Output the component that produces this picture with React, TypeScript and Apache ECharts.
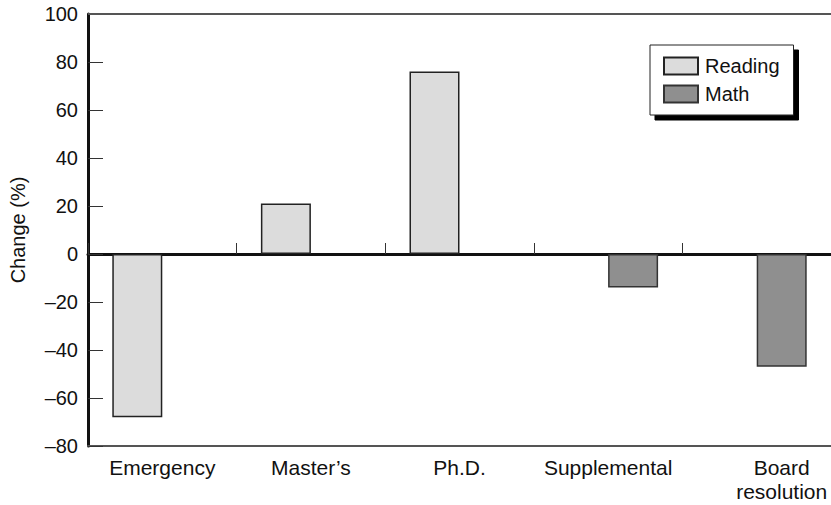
import React, { useEffect, useRef } from "react";
import * as echarts from "echarts";

const categories = ["Emergency", "Master\u2019s", "Ph.D.", "Supplemental", "Board\nresolution"];
const readingValues: (number | null)[] = [-68, 21, 76, null, null];
const mathValues: (number | null)[] = [null, null, null, -14, -47];
const yMin = -80;
const yMax = 100;
const yStep = 20;

const FONT = "'Liberation Sans', Arial, Helvetica, sans-serif";

export default function App() {
  const ref = useRef<HTMLDivElement>(null);
  useEffect(() => {
    document.body.style.margin = "0";
    const chart = echarts.init(ref.current!, undefined, { renderer: "svg" });
    const catData = categories.map((c, i) =>
      i === categories.length - 1
        ? { value: c, textStyle: { padding: [0, 0, 0, 50] } }
        : c
    );
    chart.setOption({
      animation: false,
      textStyle: { fontFamily: FONT },
      grid: { left: 88, top: 14, width: 750, height: 432 },
      legend: {
        orient: "vertical",
        left: 650,
        top: 45,
        padding: [11, 14, 11, 13],
        itemGap: 8,
        itemWidth: 34,
        itemHeight: 17,
        backgroundColor: "#fff",
        borderColor: "#222",
        borderWidth: 1,
        borderRadius: 0,
        shadowColor: "#000",
        shadowBlur: 0,
        shadowOffsetX: 5,
        shadowOffsetY: 5,
        textStyle: { fontSize: 20, color: "#111", fontFamily: FONT, padding: [0, 0, 0, 2] },
        data: [
          { name: "Reading", icon: "rect" },
          { name: "Math", icon: "rect" },
        ],
      },
      xAxis: [
        {
          type: "category",
          data: catData,
          position: "bottom",
          axisLine: { onZero: false, lineStyle: { color: "#555", width: 2 } },
          axisTick: { show: false },
          axisLabel: {
            interval: 0,
            margin: 9,
            fontSize: 21,
            lineHeight: 24,
            color: "#111",
            fontFamily: FONT,
          },
          splitLine: { show: false },
        },
        {
          type: "category",
          data: categories,
          position: "top",
          axisLine: { onZero: true, lineStyle: { color: "#111", width: 3 } },
          axisTick: { show: true, inside: false, length: 11, lineStyle: { color: "#333", width: 1 } },
          axisLabel: { show: false },
          splitLine: { show: false },
        },
      ],
      yAxis: {
        type: "value",
        min: yMin,
        max: yMax,
        interval: yStep,
        name: "Change (%)",
        nameLocation: "middle",
        nameGap: 60,
        nameTextStyle: { fontSize: 20, color: "#111", fontFamily: FONT },
        axisLine: { show: true, lineStyle: { color: "#111", width: 3 } },
        axisTick: { show: true, inside: true, length: 15, lineStyle: { color: "#333", width: 1 } },
        axisLabel: {
          fontSize: 20,
          color: "#111",
          margin: 10,
          fontFamily: FONT,
          formatter: (v: number) => String(v).replace("-", "\u2013"),
        },
        splitLine: { show: false },
      },
      series: [
        {
          name: "Reading",
          type: "bar",
          xAxisIndex: 0,
          data: readingValues.map((v) => (v === null ? "-" : v)),
          barWidth: 50,
          barGap: "0%",
          itemStyle: { color: "#dcdcdc", borderColor: "#222", borderWidth: 1.5 },
          markLine: {
            silent: true,
            symbol: "none",
            label: { show: false },
            lineStyle: { color: "#555", width: 2, type: "solid" },
            data: [{ yAxis: yMax }],
          },
        },
        {
          name: "Math",
          type: "bar",
          xAxisIndex: 0,
          data: mathValues.map((v) => (v === null ? "-" : v)),
          barWidth: 50,
          barGap: "0%",
          itemStyle: { color: "#8f8f8f", borderColor: "#333", borderWidth: 1.5 },
        },
      ],
    });
    return () => chart.dispose();
  }, []);
  return <div ref={ref} style={{ width: 831, height: 505 }} />;
}
